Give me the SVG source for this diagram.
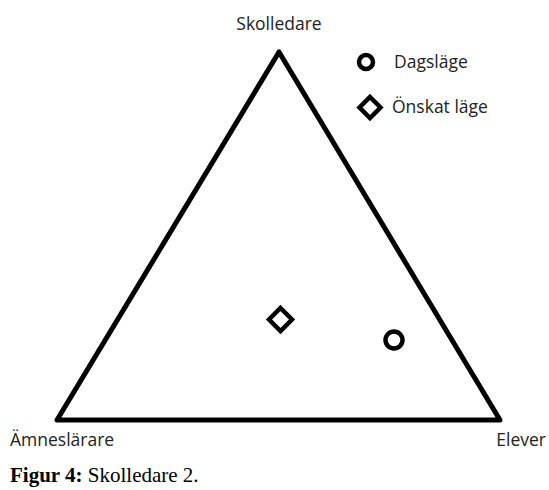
<svg xmlns="http://www.w3.org/2000/svg" width="549" height="490" viewBox="0 0 549 490">
<style>
.lbl{font-family:"Open Sans","Liberation Sans",sans-serif;font-size:17.5px;fill:#222}
.mk{fill:none;stroke:#000;stroke-width:4.5;stroke-linejoin:miter}
.cap{font-family:"Liberation Serif",serif;font-size:21px;fill:#000}
</style>
<rect width="549" height="490" fill="#fff"/>
<g id="connectors">
<polygon points="279,52 57,420 500,420" fill="none" stroke="#000" stroke-width="5" stroke-linejoin="round"/>
</g>
<g id="skolledare"><text class="lbl" x="279" y="30" text-anchor="middle">Skolledare</text></g>
<g id="amneslarare"><text class="lbl" x="10" y="446">Ämneslärare</text></g>
<g id="elever"><text class="lbl" x="546" y="446" text-anchor="end">Elever</text></g>
<g id="legend">
<circle class="mk" cx="366" cy="62" r="7"/>
<text class="lbl" x="394" y="68">Dagsläge</text>
<polygon class="mk" points="370,97 380.5,107.5 370,118 359.5,107.5"/>
<text class="lbl" x="392" y="113">Önskat läge</text>
</g>
<g id="onskat"><polygon class="mk" points="280.5,308 292,319.5 280.5,331 269,319.5"/></g>
<g id="dagslage"><circle class="mk" cx="394" cy="340" r="8.5"/></g>
<text class="cap" x="10" y="482"><tspan font-weight="bold">Figur 4:</tspan> Skolledare 2.</text>
</svg>
